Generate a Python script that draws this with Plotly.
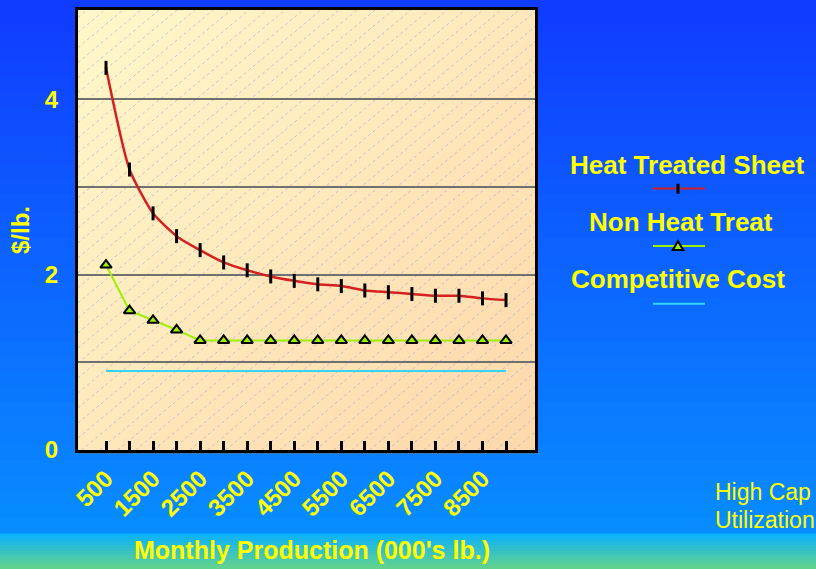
import plotly.graph_objects as go

# ---------------- data ----------------
production = [500, 1000, 1500, 2000, 2500, 3000, 3500, 4000, 4500,
              5000, 5500, 6000, 6500, 7000, 7500, 8000, 8500, 9000]
tick_labels = ["500", "", "1500", "", "2500", "", "3500", "", "4500",
               "", "5500", "", "6500", "", "7500", "", "8500", ""]
heat_treated = [4.36, 3.20, 2.70, 2.44, 2.28, 2.14, 2.05, 1.98, 1.93,
                1.89, 1.87, 1.82, 1.80, 1.78, 1.76, 1.76, 1.73, 1.71]
non_heat_treat = [2.11, 1.59, 1.48, 1.37, 1.25, 1.25, 1.25, 1.25, 1.25,
                  1.25, 1.25, 1.25, 1.25, 1.25, 1.25, 1.25, 1.25, 1.25]
competitive = [0.90, 0.90, 0.90, 0.90, 0.90, 0.90, 0.90, 0.90, 0.90,
               0.90, 0.90, 0.90, 0.90, 0.90, 0.90, 0.90, 0.90, 0.90]
y_tick_vals = [0, 1, 2, 3, 4]
y_tick_text = ["0", "", "2", "", "4"]

# ---------------- layout geometry ----------------
W, H = 816, 569
PL, PR, PT, PB = 78, 535, 7, 450   # plot area in pixels
PW, PH = PR - PL, PB - PT
FONT = "Liberation Sans, Arial, sans-serif"
YELLOW = "#FFFF00"


def pp(x, y):
    """pixel -> paper coordinates"""
    return ((x - PL) / PW, (PB - y) / PH)


def mix(c1, c2, t):
    return "rgb(%d,%d,%d)" % tuple(round(a + (b - a) * t) for a, b in zip(c1, c2))


shapes = []

# figure background: vertical blue gradient + bottom cyan/green band
top_c, mid_c = (16, 60, 255), (8, 140, 255)
N = 36
band_top = 534
for i in range(N):
    y0 = band_top * i / N - (6 if i == 0 else 0)
    y1 = band_top * (i + 1) / N + 1
    x0p, y0p = pp(-6, y0)
    x1p, y1p = pp(W + 6, y1)
    shapes.append(dict(type="rect", xref="paper", yref="paper", x0=x0p, x1=x1p,
                       y0=y0p, y1=y1p, fillcolor=mix(top_c, mid_c, i / (N - 1)),
                       line=dict(width=0), layer="below"))
b1, b2 = (12, 178, 250), (96, 210, 144)
NB = 12
for i in range(NB):
    y0 = band_top + (H - band_top) * i / NB
    y1 = band_top + (H - band_top) * (i + 1) / NB + (6 if i == NB - 1 else 1)
    x0p, y0p = pp(-6, y0)
    x1p, y1p = pp(W + 6, y1)
    shapes.append(dict(type="rect", xref="paper", yref="paper", x0=x0p, x1=x1p,
                       y0=y0p, y1=y1p, fillcolor=mix(b1, b2, i / (NB - 1)),
                       line=dict(width=0), layer="below"))


# plot area: diagonal gradient (top-left yellow -> bottom-right peach)
def clip(poly, a, b, c, keep_ge):
    """clip polygon against half-plane a*x+b*y >= c (or <= c)"""
    out = []
    n = len(poly)
    for i in range(n):
        P, Q = poly[i], poly[(i + 1) % n]
        fp = a * P[0] + b * P[1] - c
        fq = a * Q[0] + b * Q[1] - c
        if not keep_ge:
            fp, fq = -fp, -fq
        if fp >= 0:
            out.append(P)
        if (fp >= 0) != (fq >= 0):
            t = fp / (fp - fq)
            out.append((P[0] + t * (Q[0] - P[0]), P[1] + t * (Q[1] - P[1])))
    return out


rect = [(PL, PT), (PR, PT), (PR, PB), (PL, PB)]
g1, g2 = (255, 248, 202), (253, 216, 172)
NG = 30
umax = PW + PH
for i in range(NG):
    c1 = PL + PT + umax * i / NG - 0.8
    c2 = PL + PT + umax * (i + 1) / NG + 0.8
    poly = clip(rect, 1, 1, c1, True)
    poly = clip(poly, 1, 1, c2, False)
    if len(poly) < 3:
        continue
    path = "M " + " L ".join("%.5f,%.5f" % pp(x, y) for x, y in poly) + " Z"
    shapes.append(dict(type="path", xref="paper", yref="paper", path=path,
                       fillcolor=mix(g1, g2, (i + 0.5) / NG), line=dict(width=0),
                       layer="below"))

# hatch lines "/" : k*x + y = c
k = 0.84
step = 18 * k
c = PL * k + PT + step * 0.5
while c < PR * k + PB:
    pts = []
    for x in (PL, PR):
        y = c - k * x
        if PT <= y <= PB:
            pts.append((x, y))
    for y in (PT, PB):
        x = (c - y) / k
        if PL <= x <= PR:
            pts.append((x, y))
    if len(pts) >= 2:
        pts.sort()
        (xa, ya), (xb, yb) = pts[0], pts[-1]
        p0, p1 = pp(xa, ya), pp(xb, yb)
        shapes.append(dict(type="line", xref="paper", yref="paper",
                           x0=p0[0], y0=p0[1], x1=p1[0], y1=p1[1],
                           line=dict(color="rgba(150,160,200,0.55)", width=1, dash="dot"),
                           layer="below"))
    c += step

# grey shadow under the bottom axis line
a, b = pp(PL + 2, PB + 2.5), pp(PR, PB + 2.5)
shapes.append(dict(type="line", xref="paper", yref="paper", x0=a[0], y0=a[1],
                   x1=b[0], y1=b[1], line=dict(color="#707070", width=2), layer="below"))

# ---------------- traces ----------------
fig = go.Figure()
fig.add_trace(go.Scatter(
    x=production, y=competitive, mode="lines", name="Competitive Cost",
    line=dict(color="#33D4F5", width=2)))
fig.add_trace(go.Scatter(
    x=production, y=non_heat_treat, mode="lines+markers", name="Non Heat Treat",
    line=dict(color="#9CF000", width=2),
    marker=dict(symbol="triangle-up", size=10, color="#9CF000",
                line=dict(color="black", width=2))))
fig.add_trace(go.Scatter(
    x=production, y=heat_treated, mode="lines+markers", name="Heat Treated Sheet",
    line=dict(color="#D42020", width=2.5, shape="spline", smoothing=0.6),
    marker=dict(symbol="line-ns", size=10, line=dict(color="black", width=3))))

# ---------------- custom legend ----------------
annotations = []
legend_items = [
    ("Heat Treated Sheet", 687, 163, 186.7),
    ("Non Heat Treat", 681, 220, 244.7),
    ("Competitive Cost", 678, 278, 302.7),
]
for text, cx, ty, ly in legend_items:
    ax, ay = pp(cx, ty)
    annotations.append(dict(text=text, x=ax, y=ay, xref="paper", yref="paper",
                            xanchor="center", yanchor="middle", showarrow=False,
                            font=dict(family=FONT, size=26, color=YELLOW, weight="bold")))

legend_colors = ["#D42020", "#9CF000", "#33D4F5"]
for (text, cx, ty, ly), col in zip(legend_items, legend_colors):
    a, b = pp(653, ly), pp(705, ly)
    shapes.append(dict(type="line", xref="paper", yref="paper", x0=a[0], y0=a[1],
                       x1=b[0], y1=b[1], line=dict(color=col, width=2), layer="above"))
# red tick marker
a, b = pp(678, 182), pp(678, 192)
shapes.append(dict(type="line", xref="paper", yref="paper", x0=a[0], y0=a[1],
                   x1=b[0], y1=b[1], line=dict(color="black", width=3), layer="above"))
# green triangle marker
tri = [(678, 239.8), (683.2, 248.6), (672.8, 248.6)]
shapes.append(dict(type="path", xref="paper", yref="paper",
                   path="M " + " L ".join("%.5f,%.5f" % pp(x, y) for x, y in tri) + " Z",
                   fillcolor="#9CF000", line=dict(color="black", width=2), layer="above"))

# bottom-right note (as visible in the original)
for txt, yy in (("High Cap", 492), ("Utilization", 520)):
    ax, ay = pp(713, yy)
    annotations.append(dict(text=txt, x=ax, y=ay, xref="paper", yref="paper",
                            xanchor="left", yanchor="middle", showarrow=False,
                            font=dict(family=FONT, size=23, color=YELLOW)))

# x-axis title
ax, ay = pp(312, 551)
annotations.append(dict(text="Monthly Production (000's lb.)", x=ax, y=ay,
                        xref="paper", yref="paper", xanchor="center", yanchor="middle",
                        showarrow=False,
                        font=dict(family=FONT, size=25, color=YELLOW, weight="bold")))

fig.update_layout(
    width=W, height=H, autosize=False,
    margin=dict(l=PL, r=W - PR, t=PT, b=H - PB, pad=0),
    paper_bgcolor="rgb(16,60,255)", plot_bgcolor="rgba(0,0,0,0)",
    showlegend=False, hovermode=False,
    shapes=shapes, annotations=annotations,
    font=dict(family=FONT, color=YELLOW),
)
fig.update_xaxes(
    range=[-95, 9616], tickmode="array", tickvals=production, ticktext=tick_labels,
    tickangle=-45, ticks="inside", ticklen=9, tickwidth=3, tickcolor="black",
    tickfont=dict(family=FONT, size=24, color=YELLOW, weight="bold"),
    ticklabelstandoff=2,
    showgrid=False, zeroline=False,
    showline=True, linecolor="black", linewidth=3, mirror=True,
)
fig.update_yaxes(
    range=[0, 5.02], tickmode="array", tickvals=y_tick_vals, ticktext=y_tick_text,
    ticks="", tickfont=dict(family=FONT, size=24, color=YELLOW, weight="bold"),
    ticklabelstandoff=12,
    showgrid=True, gridcolor="#707070", gridwidth=2, zeroline=False,
    showline=True, linecolor="black", linewidth=3, mirror=True,
    title=dict(text="$/lb.", standoff=9,
               font=dict(family=FONT, size=24, color=YELLOW, weight="bold")),
)

fig.write_html("out.html",
               config={"displayModeBar": False},
               post_script="document.body.style.margin='0px';"
                           "document.body.style.overflow='hidden';")
